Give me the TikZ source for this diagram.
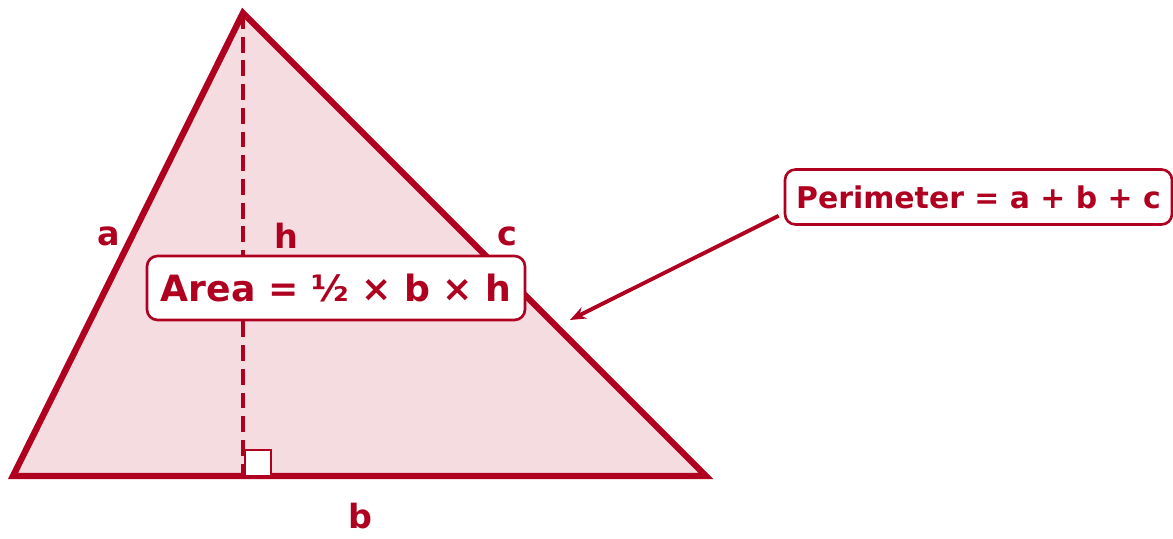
\documentclass[tikz,border=0pt]{standalone}
\usepackage{fontspec}
\setmainfont{DejaVu Sans}
\usetikzlibrary{arrows.meta, positioning}

\definecolor{crimson}{RGB}{176,0,32}
\definecolor{pinkfill}{RGB}{245,220,225}

\begin{document}
\begin{tikzpicture}
      \tikzset{
  side/.style={line width=3.6pt, draw=crimson, fill=pinkfill, line join=miter},
  height/.style={line width=2.6pt, draw=crimson, dash pattern=on 9pt off 4.5pt},
  rightangle/.style={line width=1.4pt, draw=crimson, fill=white},
  label/.style={text=crimson, font=\fontsize{19}{22}\selectfont\bfseries, inner sep=0pt},
  formula/.style={
    rectangle, rounded corners=6pt, draw=crimson, fill=white, line width=1.5pt,
    text=crimson, text centered, inner sep=0pt
  },
  arrow/.style={-{Stealth[length=9pt, width=7pt]}, line width=2.2pt, crimson},
}
\useasboundingbox (0,0) rectangle (23.46,10.78);

%% ---- TRIANGLE ----
\coordinate (left)  at (0.26,1.26);
\coordinate (apex)  at (4.86,10.52);
\coordinate (right) at (14.12,1.26);
\coordinate (foot)  at (4.86,1.26);

\draw[side] (left) -- (apex) -- (right) -- cycle;
\draw[height] (apex) -- (foot);
\draw[rightangle] ([xshift=0.04cm]foot) rectangle ++(0.52,0.52);

%% ---- SIDE LABELS ----
\node[label] (lbla) at (2.18,6.06) {a};
\node[label] (lblh) at (5.72,6.06) {h};
\node[label] (lblc) at (10.14,6.06) {c};
\node[label, anchor=base] (lblb) at (7.2,0.2) {b};

%% ---- FORMULAS ----
\node[formula, minimum width=7.56cm, minimum height=1.28cm,
      font=\fontsize{20.6}{24}\selectfont\bfseries] (area) at (6.72,5.02)
      {Area = ½ × b × h};
\node[formula, minimum width=7.74cm, minimum height=1.1cm,
      font=\fontsize{17}{20}\selectfont\bfseries] (perim) at (19.57,6.84)
      {Perimeter = a + b + c};

%% pointer from the perimeter box onto side c
\coordinate (perimfoot) at ([shift={(-0.1cm,0.2cm)}]perim.south west);
\coordinate (sidec) at (11.4,4.38);
\draw[arrow] (perimfoot) -- (sidec);

    \end{tikzpicture}
\end{document}
